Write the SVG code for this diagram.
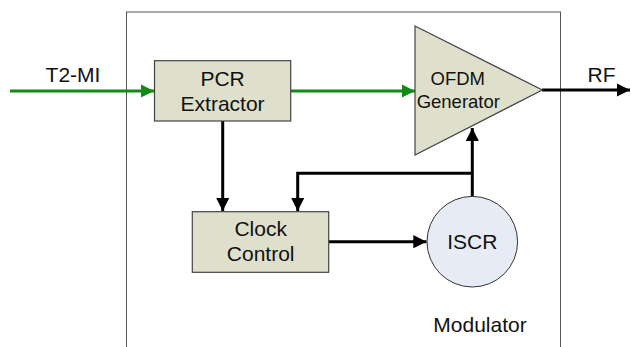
<svg xmlns="http://www.w3.org/2000/svg" width="631" height="347" viewBox="0 0 631 347">
<style>
text{font-family:"Liberation Sans",Arial,sans-serif;fill:#111;text-anchor:middle}
.blk{fill:#DEE0CC;stroke:#444;stroke-width:1.2}
.k{fill:none;stroke:#000;stroke-width:3}
.g{fill:none;stroke:#138A13;stroke-width:3}
</style>
<defs>
<marker id="ak" viewBox="0 0 10 10" refX="10" refY="5" markerWidth="4.4" markerHeight="4.4" markerUnits="strokeWidth" orient="auto"><path d="M0,0L10,5L0,10z" fill="#000"/></marker>
<marker id="ag" viewBox="0 0 10 10" refX="10" refY="5" markerWidth="4.4" markerHeight="4.4" markerUnits="strokeWidth" orient="auto"><path d="M0,0L10,5L0,10z" fill="#138A13"/></marker>
</defs>
<rect id="modulator" x="126.5" y="12" width="434" height="345" fill="#fff" stroke="#555" stroke-width="1"/>
<g id="connectors">
<path class="g" d="M10,91H154" marker-end="url(#ag)"/>
<path class="g" d="M291,91H415" marker-end="url(#ag)"/>
<path class="k" d="M542,90H630" marker-end="url(#ak)"/>
<path class="k" d="M222.7,121V211" marker-end="url(#ak)"/>
<path class="k" d="M472.3,196.5V128" marker-end="url(#ak)"/>
<path class="k" d="M472.3,173.3H297.7V211" marker-end="url(#ak)"/>
<path class="k" d="M328.7,241.7H426.5" marker-end="url(#ak)"/>
</g>
<g id="pcr">
<rect class="blk" x="154.5" y="60.7" width="136.2" height="60.3"/>
<text x="222.6" y="85.7" font-size="21">PCR</text>
<text x="222.6" y="110.7" font-size="21">Extractor</text>
</g>
<g id="ofdm">
<path class="blk" d="M415,26L542.3,90L415,155z"/>
<text x="457.8" y="85" font-size="18.5">OFDM</text>
<text x="458.3" y="107.7" font-size="18.5">Generator</text>
</g>
<g id="clock">
<rect class="blk" x="192.3" y="211.7" width="136.4" height="60.6"/>
<text x="260.7" y="236" font-size="21">Clock</text>
<text x="260.7" y="260.7" font-size="21">Control</text>
</g>
<g id="iscr">
<circle cx="472.3" cy="241.7" r="45.3" fill="#E6EBF6" stroke="#333" stroke-width="1"/>
<text x="472.3" y="249.3" font-size="21">ISCR</text>
</g>
<text x="73" y="81.7" font-size="21">T2-MI</text>
<text x="601.5" y="81.7" font-size="21">RF</text>
<text x="480" y="331.7" font-size="21">Modulator</text>
</svg>
